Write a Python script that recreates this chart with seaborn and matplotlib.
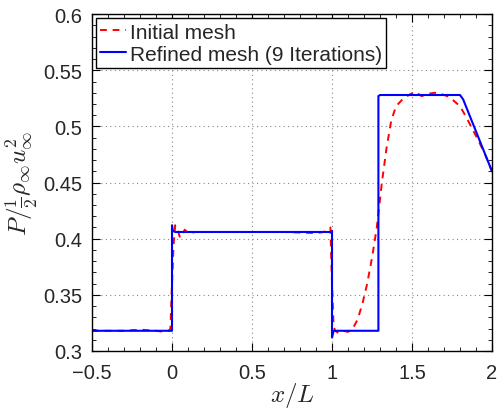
import numpy as np
import pandas as pd
import matplotlib
matplotlib.use("Agg")
import matplotlib.pyplot as plt
import seaborn as sns
from matplotlib.ticker import MultipleLocator

# Data
x_initial = [-0.5, -0.3, -0.2, -0.1, -0.05, -0.02, -0.01, 0.0, 0.01, 0.02, 0.035, 0.05,
             0.065, 0.08, 0.1, 0.15, 0.3, 0.5, 0.7, 0.9, 0.95, 0.98, 0.99, 1.0, 1.01,
             1.02, 1.04, 1.07, 1.1, 1.13, 1.16, 1.19, 1.22, 1.25, 1.28, 1.31, 1.34,
             1.37, 1.40, 1.44, 1.48, 1.52, 1.56, 1.60, 1.64, 1.68, 1.72, 1.76, 1.80,
             1.84, 1.88, 1.92, 1.96, 2.0]
y_initial = [0.318, 0.318, 0.319, 0.318, 0.317, 0.318, 0.320, 0.360, 0.395, 0.412, 0.408, 0.401,
             0.404, 0.408, 0.405, 0.406, 0.406, 0.406, 0.406, 0.405, 0.406, 0.409, 0.410, 0.360, 0.322,
             0.318, 0.316, 0.318, 0.317, 0.320, 0.328, 0.342, 0.360, 0.383, 0.410, 0.448, 0.480,
             0.505, 0.518, 0.524, 0.528, 0.531, 0.527, 0.529, 0.530, 0.529, 0.527, 0.523, 0.518,
             0.508, 0.497, 0.486, 0.474, 0.460]

x_refined = [-0.5, 0.0, 0.0, 0.005, 0.02, 1.0, 1.0, 1.0, 1.01, 1.29, 1.29, 1.30, 1.80, 1.82, 2.0]
y_refined = [0.318, 0.318, 0.412, 0.407, 0.406, 0.406, 0.407, 0.312, 0.318, 0.318, 0.527, 0.528, 0.528, 0.524, 0.460]

labels = ["Initial mesh", "Refined mesh (9 Iterations)"]
x_ticks = [-0.5, 0, 0.5, 1, 1.5, 2]
x_tick_labels = ["\u22120.5", "0", "0.5", "1", "1.5", "2"]
y_ticks = [0.3, 0.35, 0.4, 0.45, 0.5, 0.55, 0.6]
y_tick_labels = ["0.3", "0.35", "0.4", "0.45", "0.5", "0.55", "0.6"]

sns.set_theme(style="ticks")
plt.rcParams['font.family'] = ['Liberation Sans', 'DejaVu Sans']
plt.rcParams['mathtext.fontset'] = 'cm'

fig = plt.figure(figsize=(5, 4.1), dpi=100)
ax = fig.add_axes([0.184, 0.1415, 0.8, 0.8215])

df_i = pd.DataFrame({"x": x_initial, "y": y_initial})
df_r = pd.DataFrame({"x": x_refined, "y": y_refined})

sns.lineplot(data=df_i, x="x", y="y", sort=False, estimator=None, ax=ax,
             color="red", linewidth=1.4, label=labels[0])
sns.lineplot(data=df_r, x="x", y="y", sort=False, estimator=None, ax=ax,
             color="#0000ff", linewidth=1.5, label=labels[1])
ax.lines[0].set_linestyle((0, (3.5, 3)))

ax.set_xlim(-0.5, 2)
ax.set_ylim(0.3, 0.6)
ax.xaxis.set_minor_locator(MultipleLocator(0.1))
ax.yaxis.set_minor_locator(MultipleLocator(0.01))
ax.set_xticks(x_ticks)
ax.set_xticklabels(x_tick_labels)
ax.set_yticks(y_ticks)
ax.set_yticklabels(y_tick_labels)

ax.tick_params(which="both", direction="in", top=True, right=True, labelsize=14.5, color="black")
ax.tick_params(which="major", length=6, width=0.8)
ax.tick_params(which="minor", length=3, width=0.6)
ax.tick_params(axis="x", which="major", pad=9)
ax.tick_params(axis="y", which="major", pad=7)
for s in ax.spines.values():
    s.set_color("black")
    s.set_linewidth(1.0)

ax.grid(True, which="major", linestyle=(0, (1, 3)), color="#888888", linewidth=0.8)

ax.set_xlabel(r"$x/L$", fontsize=18, labelpad=-2)
ax.set_ylabel(r"$P/\frac{1}{2}\rho_\infty u_\infty^2$", fontsize=18, labelpad=2)

leg = ax.legend(loc="upper left", fontsize=15, frameon=True, fancybox=False,
                edgecolor="black", framealpha=1, borderaxespad=0.2,
                handlelength=1.25, handletextpad=0.15, borderpad=0.2, labelspacing=0.15)
leg.get_frame().set_linewidth(1.0)

fig.savefig("out.png", dpi=100)
